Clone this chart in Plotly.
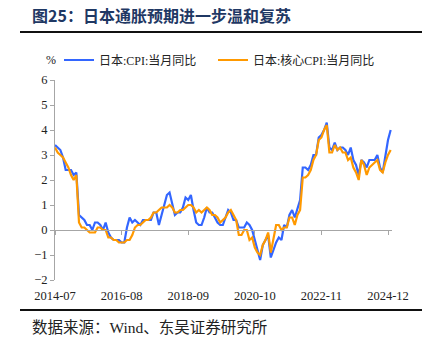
import pandas as pd
import plotly.graph_objects as go

months = [p.strftime("%Y-%m") for p in pd.period_range("2014-07", "2025-01", freq="M")]

cpi = [3.4, 3.3, 3.2, 2.9, 2.4, 2.4,
       2.4, 2.2, 2.3, 0.6, 0.5, 0.4, 0.2, 0.2, 0.0, 0.3, 0.3, 0.2,
       0.0, 0.3, -0.1, -0.3, -0.4, -0.4, -0.4, -0.5, -0.5, 0.1, 0.5, 0.3,
       0.4, 0.3, 0.2, 0.4, 0.4, 0.4, 0.4, 0.7, 0.7, 0.2, 0.6, 1.0,
       1.4, 1.5, 1.1, 0.6, 0.7, 0.7, 0.9, 1.3, 1.2, 1.4, 0.8, 0.3,
       0.2, 0.2, 0.5, 0.9, 0.7, 0.7, 0.5, 0.3, 0.2, 0.2, 0.5, 0.8,
       0.7, 0.4, 0.4, 0.1, 0.1, 0.1, 0.3, 0.2, 0.0, -0.4, -0.9, -1.2,
       -0.6, -0.4, -0.2, -1.1, -0.8, -0.5, -0.3, -0.4, 0.2, 0.1, 0.6, 0.8,
       0.5, 0.9, 1.2, 2.5, 2.5, 2.4, 2.6, 3.0, 3.0, 3.7, 3.8, 4.0,
       4.3, 3.3, 3.2, 3.5, 3.2, 3.3, 3.3, 3.2, 3.0, 3.3, 2.8, 2.6,
       2.2, 2.8, 2.7, 2.5, 2.8, 2.8, 2.8, 3.0, 2.5, 2.3, 2.9, 3.6,
       4.0]

core = [3.3, 3.1, 3.0, 2.9, 2.7, 2.5,
        2.2, 2.0, 2.2, 0.3, 0.1, 0.1, 0.0, -0.1, -0.1, -0.1, 0.1, 0.1,
        0.0, 0.0, -0.3, -0.3, -0.4, -0.4, -0.5, -0.5, -0.5, -0.4, -0.4, -0.2,
        0.1, 0.2, 0.2, 0.3, 0.4, 0.4, 0.5, 0.7, 0.7, 0.8, 0.9, 0.9,
        0.9, 1.0, 0.9, 0.7, 0.7, 0.8, 0.8, 0.9, 1.0, 1.0, 0.9, 0.7,
        0.8, 0.7, 0.8, 0.9, 0.8, 0.6, 0.6, 0.5, 0.3, 0.4, 0.5, 0.7,
        0.8, 0.6, 0.4, -0.2, -0.2, 0.0, 0.0, -0.4, -0.3, -0.7, -0.9, -1.0,
        -0.6, -0.4, -0.1, -0.9, -0.4, 0.2, 0.2, 0.0, 0.1, 0.1, 0.5, 0.5,
        0.2, 0.6, 0.8, 2.1, 2.1, 2.2, 2.4, 2.8, 3.0, 3.6, 3.7, 4.0,
        4.2, 3.1, 3.1, 3.4, 3.2, 3.3, 3.1, 3.1, 2.8, 2.9, 2.5, 2.3,
        2.0, 2.8, 2.6, 2.2, 2.5, 2.6, 2.7, 2.8, 2.4, 2.3, 2.7, 3.0,
        3.2]

tick_labels = ["2014-07", "2016-08", "2018-09", "2020-10", "2022-11", "2024-12"]
y_ticks = [-2, -1, 0, 1, 2, 3, 4, 5, 6]

series_names = ["日本:CPI:当月同比", "日本:核心CPI:当月同比"]
colors = ["#3366FF", "#FF9900"]
legend_ids = ["legend", "legend2"]

SERIF = "Liberation Serif, Times New Roman, Noto Sans CJK SC, serif"
CJK = "Noto Sans CJK SC, sans-serif"

fig = go.Figure()
for name, vals, c, lg in zip(series_names, [cpi, core], colors, legend_ids):
    fig.add_trace(go.Scatter(x=months, y=vals, mode="lines", name=name, legend=lg,
                             line=dict(color=c, width=2.2)))
# dummy trace so the zero-line axis gets categories
fig.add_trace(go.Scatter(x=months, y=[None] * len(months), xaxis="x2",
                         showlegend=False, hoverinfo="skip"))

# plot area: x 55..392 px, y 80..280 px
L, R, T, B = 55, 40, 80, 68
W, H = 432, 348
pw, ph = W - L - R, H - T - B


def px(x):
    return (x - L) / pw


def py(y):
    return (H - B - y) / ph


ymin, ymax = -2, 6
zero_pos = (0 - ymin) / (ymax - ymin)

legend_style = dict(orientation="h", y=py(60), xanchor="left", yanchor="middle",
                    font=dict(family=SERIF, size=12, color="#222222"),
                    bgcolor="rgba(0,0,0,0)", itemwidth=30)

fig.update_layout(
    width=W, height=H,
    margin=dict(l=L, r=R, t=T, b=B),
    paper_bgcolor="white", plot_bgcolor="white",
    showlegend=True,
    legend=dict(x=px(59), **legend_style),
    legend2=dict(x=px(213), **legend_style),
    xaxis=dict(type="category", range=[-0.01, 126.5], tickmode="array",
               tickvals=tick_labels, ticktext=tick_labels, showline=False,
               ticks="", showgrid=False, zeroline=False,
               tickfont=dict(family=SERIF, size=12.5, color="#222222"),
               ticklabelstandoff=6),
    xaxis2=dict(type="category", overlaying="x", matches="x", anchor="free",
                position=zero_pos, showline=True, linecolor="#A6A6A6", linewidth=1,
                ticks="outside", ticklen=4, tickcolor="#A6A6A6",
                tickvals=tick_labels, showticklabels=False, showgrid=False),
    yaxis=dict(range=[ymin, ymax], tickvals=y_ticks, showgrid=False, zeroline=False,
               showline=True, linecolor="#A6A6A6", linewidth=1,
               ticks="outside", ticklen=4, tickcolor="#A6A6A6",
               tickfont=dict(family=SERIF, size=12.5, color="#222222")),
)

fig.add_annotation(text="<b>图25：日本通胀预期进一步温和复苏</b>", xref="paper", yref="paper",
                   x=px(30), y=py(15), xanchor="left", yanchor="middle", showarrow=False,
                   font=dict(family=CJK, size=16, color="#1F3864"))
fig.add_annotation(text="%", xref="paper", yref="paper", x=px(51), y=py(60),
                   xanchor="center", yanchor="middle", showarrow=False,
                   font=dict(family=SERIF, size=12, color="#222222"))
fig.add_annotation(text="数据来源：Wind、东吴证券研究所", xref="paper", yref="paper",
                   x=px(30), y=py(327), xanchor="left", yanchor="middle", showarrow=False,
                   font=dict(family=SERIF, size=15.5, color="#222222"))
for ypix in (32, 310):
    fig.add_shape(type="line", xref="paper", yref="paper", x0=px(20), x1=px(422),
                  y0=py(ypix), y1=py(ypix), line=dict(color="#111111", width=2))

fig.write_html("out.html")
